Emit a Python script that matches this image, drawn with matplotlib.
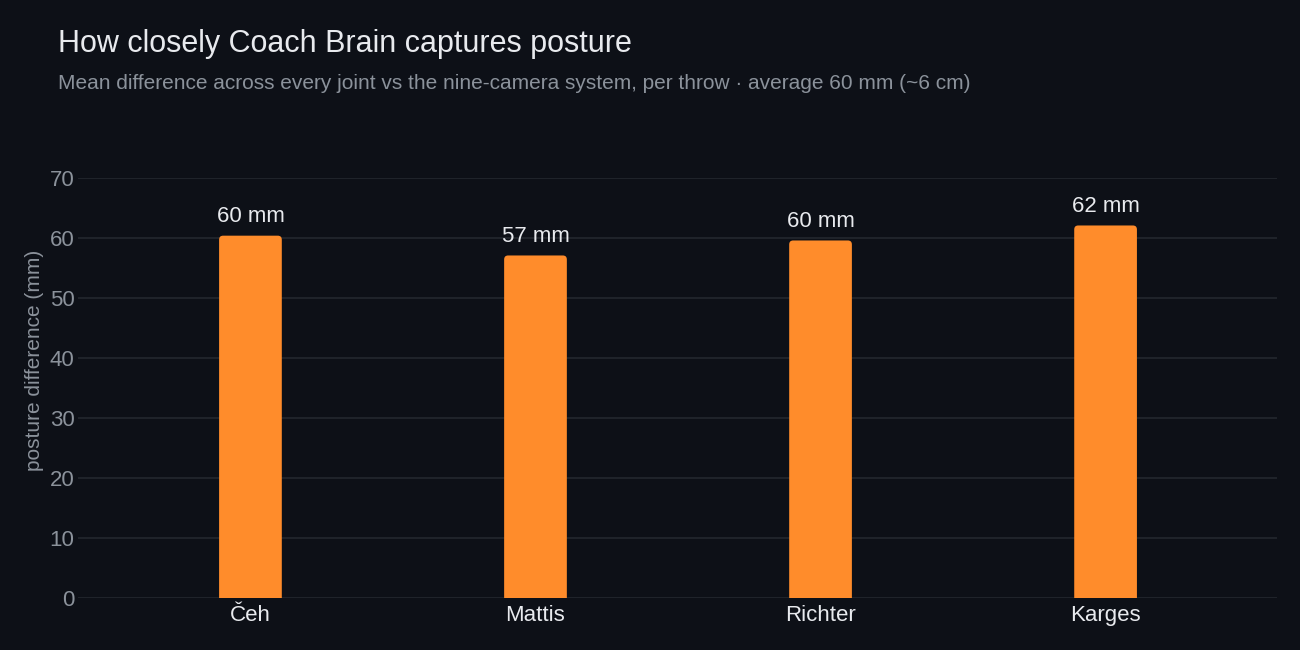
import matplotlib
matplotlib.use("Agg")
import matplotlib.pyplot as plt
from matplotlib.patches import FancyBboxPatch

plt.rcParams['font.family'] = ['Liberation Sans', 'DejaVu Sans']

players = ["Čeh", "Mattis", "Richter", "Karges"]
posture_mm = [60.4, 57.1, 59.6, 62.1]
value_labels = ["60 mm", "57 mm", "60 mm", "62 mm"]
yticks = [0, 10, 20, 30, 40, 50, 60, 70]

BG = "#0d1017"
GRID = "#23272f"
BAR = "#ff8c2b"
TICK = "#8b929b"
TEXT = "#e8eaee"

fig = plt.figure(figsize=(13, 6.5), dpi=100, facecolor=BG)
ax = fig.add_axes([0.06, 0.08, 0.922, 0.646])
ax.set_facecolor(BG)

x = list(range(len(players)))
bars = ax.bar(x, posture_mm, width=0.22, color=BAR, zorder=3)
for b in bars:
    b.set_visible(False)
    r = 0.014
    p = FancyBboxPatch((b.get_x() + r, -2), b.get_width() - 2 * r, b.get_height() + 2 - 0.67,
                       boxstyle=f"round,pad={r}", mutation_aspect=48,
                       facecolor=BAR, edgecolor="none", zorder=3, clip_on=True)
    ax.add_patch(p)

for xi, v, lab in zip(x, posture_mm, value_labels):
    ax.annotate(lab, (xi, v), xytext=(0, 6), textcoords="offset points",
                ha="center", va="bottom", color=TEXT, fontsize=16)

ax.set_xlim(-0.605, 3.6)
ax.set_ylim(0, 70)
ax.set_yticks(yticks)
ax.set_xticks(x)
ax.set_xticklabels(players)
ax.grid(axis="y", color=GRID, linewidth=1.2, zorder=0)
for s in ax.spines.values():
    s.set_visible(False)
ax.tick_params(axis="y", length=0, labelcolor=TICK, labelsize=16, pad=2.5)
ax.tick_params(axis="x", length=0, labelcolor=TEXT, labelsize=16, pad=5)
ax.set_ylabel("posture difference (mm)", color=TICK, fontsize=15)
ax.yaxis.set_label_coords(-0.0285, 0.567)

fig.text(0.0445, 0.932, "How closely Coach Brain captures posture", color=TEXT,
         fontsize=22, ha="left", va="center")
fig.text(0.0445, 0.871, "Mean difference across every joint vs the nine-camera system, per throw · average 60 mm (~6 cm)",
         color=TICK, fontsize=15, ha="left", va="center")

fig.savefig("out.png", dpi=100, facecolor=BG)
